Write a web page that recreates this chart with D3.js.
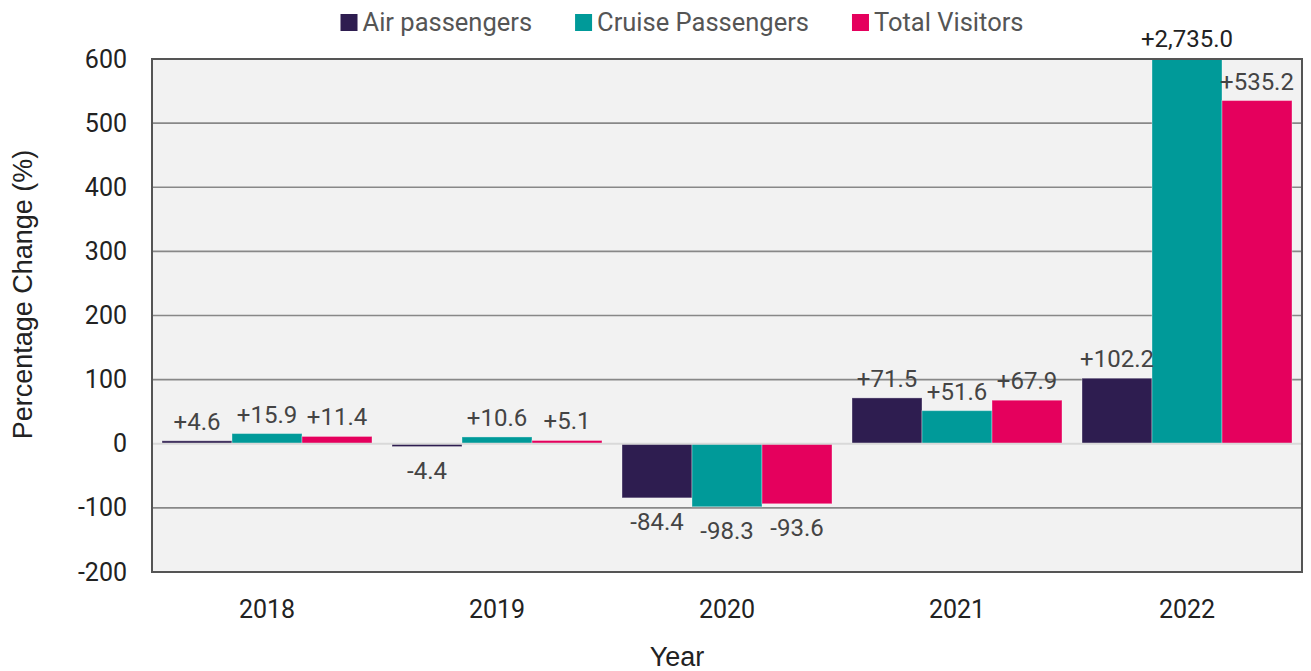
<!DOCTYPE html>
<html>
<head>
<meta charset="utf-8">
<script src="https://cdn.jsdelivr.net/npm/d3@7"></script>
<style>
  html, body { margin: 0; padding: 0; background: #fff; }
  svg { display: block; }
</style>
</head>
<body>
<svg id="chart" width="1311" height="671"></svg>
<script>
const years = ["2018", "2019", "2020", "2021", "2022"];
const seriesNames = ["Air passengers", "Cruise Passengers", "Total Visitors"];
const airPassengers = [4.6, -4.4, -84.4, 71.5, 102.2];
const cruisePassengers = [15.9, 10.6, -98.3, 51.6, 2735.0];
const totalVisitors = [11.4, 5.1, -93.6, 67.9, 535.2];
const yTicks = [-200, -100, 0, 100, 200, 300, 400, 500, 600];
const colors = ["#2e1d50", "#009a99", "#e5005d"];

const seriesValues = [airPassengers, cruisePassengers, totalVisitors];
const W = 1311, H = 671;
const margin = { left: 152, right: 9, top: 59, bottom: 99 };
const svg = d3.select("#chart");

const x0 = d3.scaleBand().domain(years).range([margin.left, W - margin.right]).padding(0);
const x1 = d3.scaleBand().domain(seriesNames).range([0, x0.bandwidth()]).paddingInner(0).paddingOuter(0.1429);
const y = d3.scaleLinear().domain([-200, 600]).range([H - margin.bottom, margin.top]);

const plotL = margin.left, plotR = W - margin.right, plotT = margin.top, plotB = H - margin.bottom;

svg.append("rect").attr("x", plotL).attr("y", plotT).attr("width", plotR - plotL).attr("height", plotB - plotT).attr("fill", "#f2f2f2");

const yAxisG = svg.append("g").attr("transform", `translate(${plotL},0)`)
  .call(d3.axisLeft(y).tickValues(yTicks).tickSize(0).tickPadding(25).tickFormat(d => String(d)));
yAxisG.select(".domain").remove();
yAxisG.selectAll("text").attr("font-family", "Roboto").attr("font-size", 25).attr("fill", "#222");

svg.append("g").selectAll("line").data(yTicks.filter(t => t !== 0 && t !== -200 && t !== 600)).join("line")
  .attr("x1", plotL).attr("x2", plotR).attr("y1", d => y(d)).attr("y2", d => y(d))
  .attr("stroke", "#888").attr("stroke-width", 1.6);

svg.append("clipPath").attr("id", "clip").append("rect")
  .attr("x", plotL).attr("y", plotT).attr("width", plotR - plotL).attr("height", plotB - plotT);

const rows = [];
years.forEach((yr, i) => {
  seriesNames.forEach((s, j) => rows.push({ year: yr, series: s, value: seriesValues[j][i], color: colors[j] }));
});

svg.append("g").attr("clip-path", "url(#clip)").selectAll("rect").data(rows).join("rect")
  .attr("x", d => x0(d.year) + x1(d.series))
  .attr("width", x1.bandwidth())
  .attr("y", d => y(Math.max(0, d.value)))
  .attr("height", d => Math.abs(y(d.value) - y(0)))
  .attr("fill", d => d.color)
  .attr("stroke", "rgba(255,255,255,0.35)").attr("stroke-width", 1);

svg.append("line").attr("x1", plotL).attr("x2", plotR).attr("y1", y(0)).attr("y2", y(0))
  .attr("stroke", "#d9d9d9").attr("stroke-width", 2);

svg.append("rect").attr("x", plotL).attr("y", plotT).attr("width", plotR - plotL).attr("height", plotB - plotT)
  .attr("fill", "none").attr("stroke", "#555").attr("stroke-width", 2);

const fmt = d3.format(",.1f");
const labelText = v => (v >= 0 ? "+" + fmt(v) : "-" + fmt(Math.abs(v)));
svg.append("g").selectAll("text").data(rows).join("text")
  .attr("x", d => x0(d.year) + x1(d.series) + x1.bandwidth() / 2)
  .attr("y", d => {
    if (d.value >= 0) {
      const top = Math.max(y(d.value), plotT);
      return top - (d.value > 600 ? 12 : 11);
    }
    return y(d.value) + 32;
  })
  .attr("text-anchor", "middle")
  .attr("font-family", "Roboto").attr("font-size", 24)
  .attr("fill", d => d.value > 600 ? "#222" : "#444")
  .text(d => labelText(d.value));

const xAxisG = svg.append("g").attr("transform", `translate(0,${plotB})`)
  .call(d3.axisBottom(x0).tickSize(0).tickPadding(28));
xAxisG.select(".domain").remove();
xAxisG.selectAll("text").attr("font-family", "Roboto").attr("font-size", 25).attr("fill", "#222");

svg.append("text").attr("x", (plotL + plotR) / 2 - 50).attr("y", 666)
  .attr("text-anchor", "middle").attr("font-family", "Liberation Sans, Arial, sans-serif").attr("font-size", 27).attr("fill", "#222")
  .text("Year");
svg.append("text").attr("transform", `translate(32,${(plotT + plotB) / 2 - 21}) rotate(-90)`)
  .attr("text-anchor", "middle").attr("font-family", "Liberation Sans, Arial, sans-serif").attr("font-size", 27).attr("fill", "#222")
  .text("Percentage Change (%)");

const legend = svg.append("g");
let lx = 0;
seriesNames.forEach((s, j) => {
  const g = legend.append("g").attr("transform", `translate(${lx},0)`);
  g.append("rect").attr("x", 0).attr("y", 14).attr("width", 17).attr("height", 17).attr("fill", colors[j]);
  const t = g.append("text").attr("x", 22).attr("y", 31).attr("font-family", "Roboto").attr("font-size", 25.5).attr("fill", "#555").text(s);
  const w = t.node().getComputedTextLength();
  lx += 22 + w + 43;
});
const totalW = lx - 43;
legend.attr("transform", `translate(${682 - totalW / 2},0)`);
</script>
</body>
</html>
